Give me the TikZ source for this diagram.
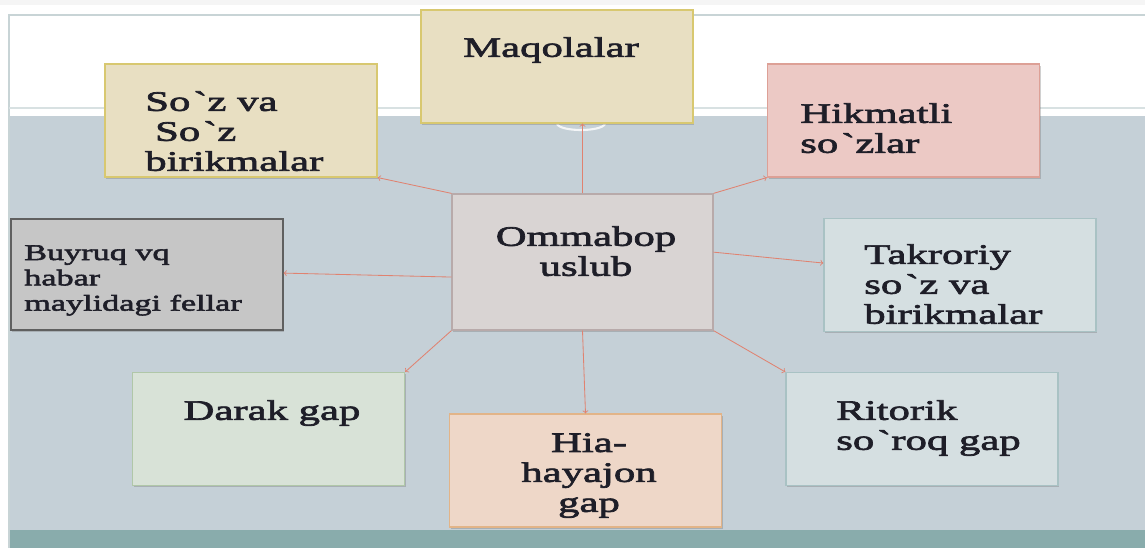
\documentclass[tikz,border=0pt]{standalone}
\usepackage{fontspec}
\setmainfont{Liberation Serif}[FakeStretch=1.52, FakeBold=2.5]
\usetikzlibrary{shadows}

\definecolor{slidebg}{RGB}{197,208,215}
\definecolor{band}{RGB}{137,172,172}
\definecolor{frame}{RGB}{200,212,214}
\definecolor{ink}{RGB}{30,30,40}
\definecolor{arrowred}{RGB}{224,130,112}
\definecolor{sandfill}{RGB}{232,223,194}
\definecolor{sandline}{RGB}{216,200,112}
\definecolor{rosefill}{RGB}{236,201,197}
\definecolor{roseline}{RGB}{221,160,150}
\definecolor{greyfill}{RGB}{217,212,211}
\definecolor{greyline}{RGB}{184,170,170}
\definecolor{darkfill}{RGB}{198,198,198}
\definecolor{darkline}{RGB}{96,96,96}
\definecolor{icefill}{RGB}{213,223,225}
\definecolor{iceline}{RGB}{169,194,196}
\definecolor{sagefill}{RGB}{216,226,215}
\definecolor{sageline}{RGB}{176,199,168}
\definecolor{peachfill}{RGB}{238,215,200}
\definecolor{peachline}{RGB}{226,180,136}

\newcommand{\bq}{\kern2pt\textasciigrave\kern3.5pt}

\tikzset{
  box/.style={draw, rectangle, inner sep=0pt, line width=0.9pt,
    minimum width=6.8cm, minimum height=2.82cm,
    drop shadow={shadow xshift=0.8pt, shadow yshift=-1.2pt, opacity=0.3, fill=black!60}},
  txt/.style={inner sep=0pt, align=left, text=ink,
    font=\fontsize{20}{21.3}\selectfont},
  arr/.style={->, draw=arrowred, line width=0.6pt},
}

\begin{document}
\begin{tikzpicture}[x=0.025cm, y=-0.025cm]
  \useasboundingbox (0,0) rectangle (1145,548);
  % Slide background
  \fill[white] (0,0) rectangle (1145,548);
  \fill[black!4] (0,0) rectangle (1145,5);
  \fill[slidebg] (9,116) rectangle (1145,530);
  \fill[band] (9,530) rectangle (1145,548);
  \draw[frame, line width=1pt] (9,548) -- (9,15) -- (1145,15);
  \draw[frame!70, line width=1pt] (9,108) -- (1145,108);
  \draw[white, line width=1.5pt, opacity=0.8] (557,124) .. controls (561,132) and (601,132) .. (605,124);

  % Boxes
  \node[box, fill=sandfill, draw=sandline] (maq) at (557,66.5) {};
  \node[box, fill=sandfill, draw=sandline] (soz) at (241,120.5) {};
  \node[box, fill=rosefill, draw=roseline] (hik) at (903.5,120.5) {};
  \node[box, fill=greyfill, draw=greyline, minimum width=6.525cm, minimum height=3.4cm] (omm) at (582.5,262) {};
  \node[box, fill=darkfill, draw=darkline, minimum height=2.78cm] (buy) at (147,274.5) {};
  \node[box, fill=icefill, draw=iceline] (tak) at (960,275) {};
  \node[box, fill=sagefill, draw=sageline] (dar) at (268.5,429) {};
  \node[box, fill=peachfill, draw=peachline] (hia) at (585.5,470.5) {};
  \node[box, fill=icefill, draw=iceline] (rit) at (922,429) {};

  % Texts
  \node[txt, anchor=north] (maq-t) at (551,37) {Maqolalar};
  \node[txt, anchor=north west] (soz-t) at (145,91) {So\bq z va\\\hspace*{7pt}So\bq z\\birikmalar};
  \node[txt, anchor=north west] (hik-t) at (800,103) {Hikmatli\\so\bq zlar};
  \node[txt, anchor=north, align=center] (omm-t) at (586,226) {Ommabop\\uslub};
  \node[txt, anchor=north west, font=\fontsize{16}{18}\selectfont] (buy-t) at (24,245) {Buyruq vq\\habar\\maylidagi fellar};
  \node[txt, anchor=north west] (tak-t) at (864,244) {Takroriy\\so\bq z va\\birikmalar};
  \node[txt, anchor=north] (dar-t) at (272,400) {Darak gap};
  \node[txt, anchor=north, align=center] (hia-t) at (589,433) {Hia-\\hayajon\\gap};
  \node[txt, anchor=north west] (rit-t) at (836,400) {Ritorik\\so\bq roq gap};

  % Connectors
  \draw[arr] (omm.north) -- (omm.north |- maq.south);
  \draw[arr] (omm.north west) -- (soz.south east);
  \draw[arr] (omm.north east) -- (hik.south west);
  \draw[arr] ([yshift=-10.7pt]omm.west) -- ([yshift=1pt]buy.east);
  \draw[arr] ([yshift=7pt]omm.east) -- ([yshift=8.5pt]tak.west);
  \draw[arr] (omm.south west) -- (dar.north east);
  \draw[arr] (omm.south) -- (hia.north);
  \draw[arr] (omm.south east) -- (rit.north west);
\end{tikzpicture}
\end{document}
